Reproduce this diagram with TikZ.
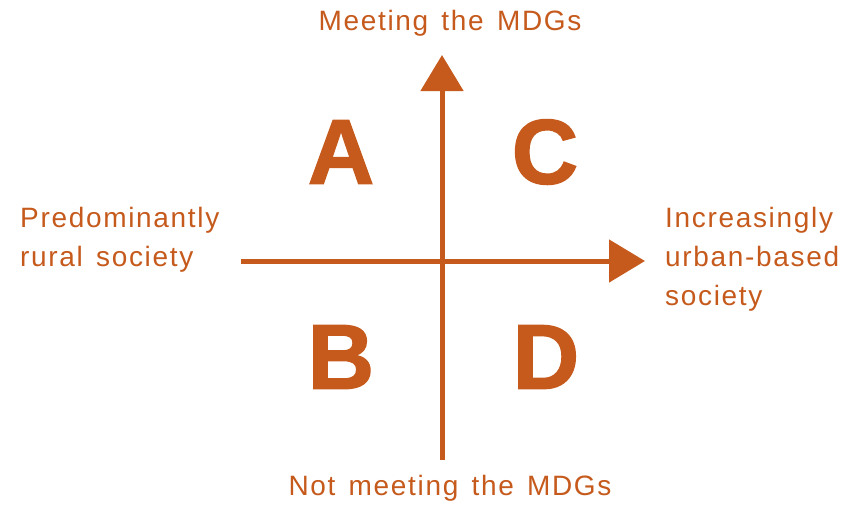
\documentclass[tikz,border=0pt]{standalone}
\usepackage{fontspec}
\setmainfont{Liberation Sans}
\newfontfamily\lblfont[LetterSpace=6,WordSpace=1.4]{Liberation Sans}
\newfontfamily\bigfont[FakeBold=1.5]{Liberation Sans Bold}
\usetikzlibrary{arrows.meta}
\definecolor{org}{HTML}{C55A1C}
\begin{document}
\begin{tikzpicture}[x=1pt,y=-1pt,
  lbl/.style={text=org,font=\lblfont\fontsize{28}{39}\selectfont,inner sep=0pt},
  big/.style={text=org,font=\bigfont\fontsize{92}{92}\selectfont,inner sep=0pt},
  axis/.style={draw=org,line width=5pt,-{Triangle[length=36pt,width=42pt]}}]
\useasboundingbox (0,0) rectangle (860,504);
\coordinate (vb) at (442,460);
\coordinate (vt) at (442,55);
\coordinate (hl) at (241,261);
\coordinate (hr) at (645,261);
\draw[axis] (vb) -- (vt);
\draw[axis] (hl) -- (hr);
\node[lbl] (top) at (450,23) {Meeting the MDGs};
\node[lbl] (bot) at (450,488) {Not meeting the MDGs};
\node[lbl,anchor=west,align=left] (left) at (20,240) {Predominantly\\rural society};
\node[lbl,anchor=west,align=left] (right) at (665,259) {Increasingly\\urban-based\\society};
\node[big] (A) at (341,152) {A};
\node[big] (C) at (545,152) {C};
\node[big] (B) at (341,357) {B};
\node[big] (D) at (546,357) {D};
\end{tikzpicture}
\end{document}
